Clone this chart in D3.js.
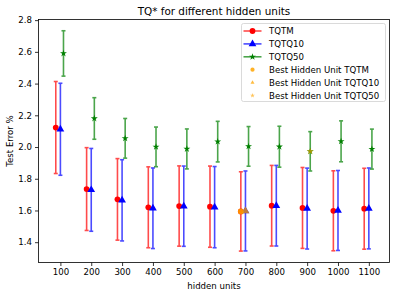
<!DOCTYPE html>
<html>
<head>
<meta charset="utf-8">
<script src="https://cdn.jsdelivr.net/npm/d3@7"></script>
<style>
  body { margin: 0; background: white; }
  svg { display: block; font-family: "DejaVu Sans", sans-serif; }
</style>
</head>
<body>
<div id="chart"></div>
<script>
// values
var units = [100, 200, 300, 400, 500, 600, 700, 800, 900, 1000, 1100];
var tqtmMean = [2.123, 1.735, 1.670, 1.620, 1.628, 1.624, 1.594, 1.630, 1.616, 1.598, 1.611];
var tqtmErr  = [0.290, 0.261, 0.257, 0.255, 0.253, 0.256, 0.250, 0.254, 0.255, 0.252, 0.255];
var tq10Mean = [2.112, 1.730, 1.664, 1.614, 1.627, 1.621, 1.597, 1.630, 1.612, 1.600, 1.613];
var tq10Err  = [0.290, 0.261, 0.256, 0.254, 0.253, 0.256, 0.252, 0.254, 0.255, 0.252, 0.255];
var tq50Mean = [2.590, 2.180, 2.055, 2.001, 1.988, 2.034, 2.004, 2.002, 1.973, 2.036, 1.987];
var tq50Err  = [0.143, 0.131, 0.125, 0.125, 0.126, 0.128, 0.125, 0.129, 0.124, 0.129, 0.126];
var best = [
  {name: 'Best Hidden Unit TQTM',   unit: 700, value: 1.594, series: 0},
  {name: 'Best Hidden Unit TQTQ10', unit: 700, value: 1.597, series: 1},
  {name: 'Best Hidden Unit TQTQ50', unit: 900, value: 1.973, series: 2}
];
var yTicks = [1.4, 1.6, 1.8, 2.0, 2.2, 2.4, 2.6, 2.8];

var app = {};
app.w = 399;
app.h = 296;
app.left = 38.5;
app.right = 389.5;
app.top = 19.5;
app.bottom = 262.5;

app.series = [
  {name: 'TQTM',   color: '#ff0000', shape: d3.symbolCircle,   size: 26, mean: tqtmMean, err: tqtmErr, dx: -15},
  {name: 'TQTQ10', color: '#0000ff', shape: d3.symbolTriangle, size: 26, mean: tq10Mean, err: tq10Err, dx: 0},
  {name: 'TQTQ50', color: '#008000', shape: d3.symbolStar,     size: 15, mean: tq50Mean, err: tq50Err, dx: 10}
];
app.bestOpacity = [0.85, 0.75, 0.65];

app.init = function(){
  var svg = d3.select('#chart').append('svg')
    .attr('width', app.w)
    .attr('height', app.h);

  var x = d3.scaleLinear().domain([29, 1167]).range([app.left, app.right]);
  var y = d3.scaleLinear().domain([1.272, 2.804]).range([app.bottom, app.top]);

  // axes
  svg.append('g')
    .attr('transform', 'translate(0,' + app.bottom + ')')
    .call(d3.axisBottom(x).tickValues(units).tickSize(3.5).tickPadding(3).tickFormat(d3.format('d')))
    .call(app.styleAxis);
  svg.append('g')
    .attr('transform', 'translate(' + app.left + ',0)')
    .call(d3.axisLeft(y).tickValues(yTicks).tickSize(3.5).tickPadding(3).tickFormat(d3.format('.1f')))
    .call(app.styleAxis);
  // top and right spines
  svg.append('rect')
    .attr('x', app.left).attr('y', app.top)
    .attr('width', app.right - app.left).attr('height', app.bottom - app.top)
    .style('fill', 'none').style('stroke', 'black').style('stroke-width', 0.8);

  // error bars + markers
  app.series.forEach(function(s){
    var g = svg.append('g');
    var rows = units.map(function(u, i){ return {u: u, m: s.mean[i], e: s.err[i]}; });
    var grp = g.selectAll('g').data(rows).enter().append('g')
      .style('stroke', s.color).style('opacity', 0.7).style('stroke-width', 1.6);
    grp.append('line')
      .attr('x1', function(d){ return x(d.u + s.dx); })
      .attr('x2', function(d){ return x(d.u + s.dx); })
      .attr('y1', function(d){ return y(d.m - d.e); })
      .attr('y2', function(d){ return y(d.m + d.e); });
    [-1, 1].forEach(function(sign){
      grp.append('line')
        .attr('x1', function(d){ return x(d.u + s.dx) - 2; })
        .attr('x2', function(d){ return x(d.u + s.dx) + 2; })
        .attr('y1', function(d){ return y(d.m + sign*d.e); })
        .attr('y2', function(d){ return y(d.m + sign*d.e); });
    });
    g.selectAll('path').data(rows).enter().append('path')
      .attr('d', d3.symbol().type(s.shape).size(s.size))
      .attr('transform', function(d){ return 'translate(' + x(d.u + s.dx) + ',' + y(d.m) + ')'; })
      .style('fill', s.color);
  });

  // best hidden units on top
  svg.append('g').selectAll('path').data(best).enter().append('path')
    .attr('d', function(d){ return d3.symbol().type(app.series[d.series].shape).size(app.series[d.series].size)(); })
    .attr('transform', function(d){ return 'translate(' + x(d.unit + app.series[d.series].dx) + ',' + y(d.value) + ')'; })
    .style('fill', 'orange')
    .style('opacity', function(d){ return app.bestOpacity[d.series]; });

  // labels
  svg.append('text').text('TQ* for different hidden units')
    .attr('x', (app.left + app.right)/2).attr('y', 15)
    .attr('text-anchor', 'middle').style('font-size', '10.4px');
  svg.append('text').text('hidden units')
    .attr('x', (app.left + app.right)/2).attr('y', 289)
    .attr('text-anchor', 'middle').style('font-size', '8.6px');
  svg.append('text').text('Test Error %')
    .attr('transform', 'translate(13,' + (app.top + app.bottom)/2 + ') rotate(-90)')
    .attr('text-anchor', 'middle').style('font-size', '8.6px');

  app.legend(svg);
};

app.styleAxis = function(g){
  g.select('.domain').remove();
  g.selectAll('line').style('stroke', 'black').style('stroke-width', 0.8);
  g.selectAll('text').style('font-size', '8.6px').style('font-family', '"DejaVu Sans", sans-serif').style('fill', 'black');
};

app.legend = function(svg){
  var lg = svg.append('g').attr('transform', 'translate(241.5,23.5)');
  lg.append('rect')
    .attr('width', 144).attr('height', 78).attr('rx', 2).attr('ry', 2)
    .style('fill', 'white').style('fill-opacity', 0.8)
    .style('stroke', '#d0d0d0').style('stroke-width', 0.8);
  var items = app.series.map(function(s){ return {name: s.name, color: s.color, shape: s.shape, size: s.size, line: true, op: 1}; })
    .concat(best.map(function(b){ return {name: b.name, color: 'orange', shape: app.series[b.series].shape, size: b.series == 0 ? 14 : 7, line: false, op: app.bestOpacity[b.series]}; }));
  var row = lg.selectAll('g').data(items).enter().append('g')
    .attr('transform', function(d, i){ return 'translate(0,' + (7.5 + i*12.9) + ')'; });
  row.filter(function(d){ return d.line; }).append('line')
    .attr('x1', 2).attr('x2', 20).attr('y1', 0).attr('y2', 0)
    .style('stroke', function(d){ return d.color; })
    .style('stroke-width', 1.6).style('opacity', 0.7);
  row.append('path')
    .attr('d', function(d){ return d3.symbol().type(d.shape).size(d.size)(); })
    .attr('transform', 'translate(11,0)')
    .style('fill', function(d){ return d.color; })
    .style('opacity', function(d){ return d.op; });
  row.append('text').text(function(d){ return d.name; })
    .attr('x', 27.5).attr('y', 3.1)
    .style('font-size', '8.6px');
};

if (document.addEventListener) {
  document.addEventListener('DOMContentLoaded', app.init, false);
};
</script>
</body>
</html>
